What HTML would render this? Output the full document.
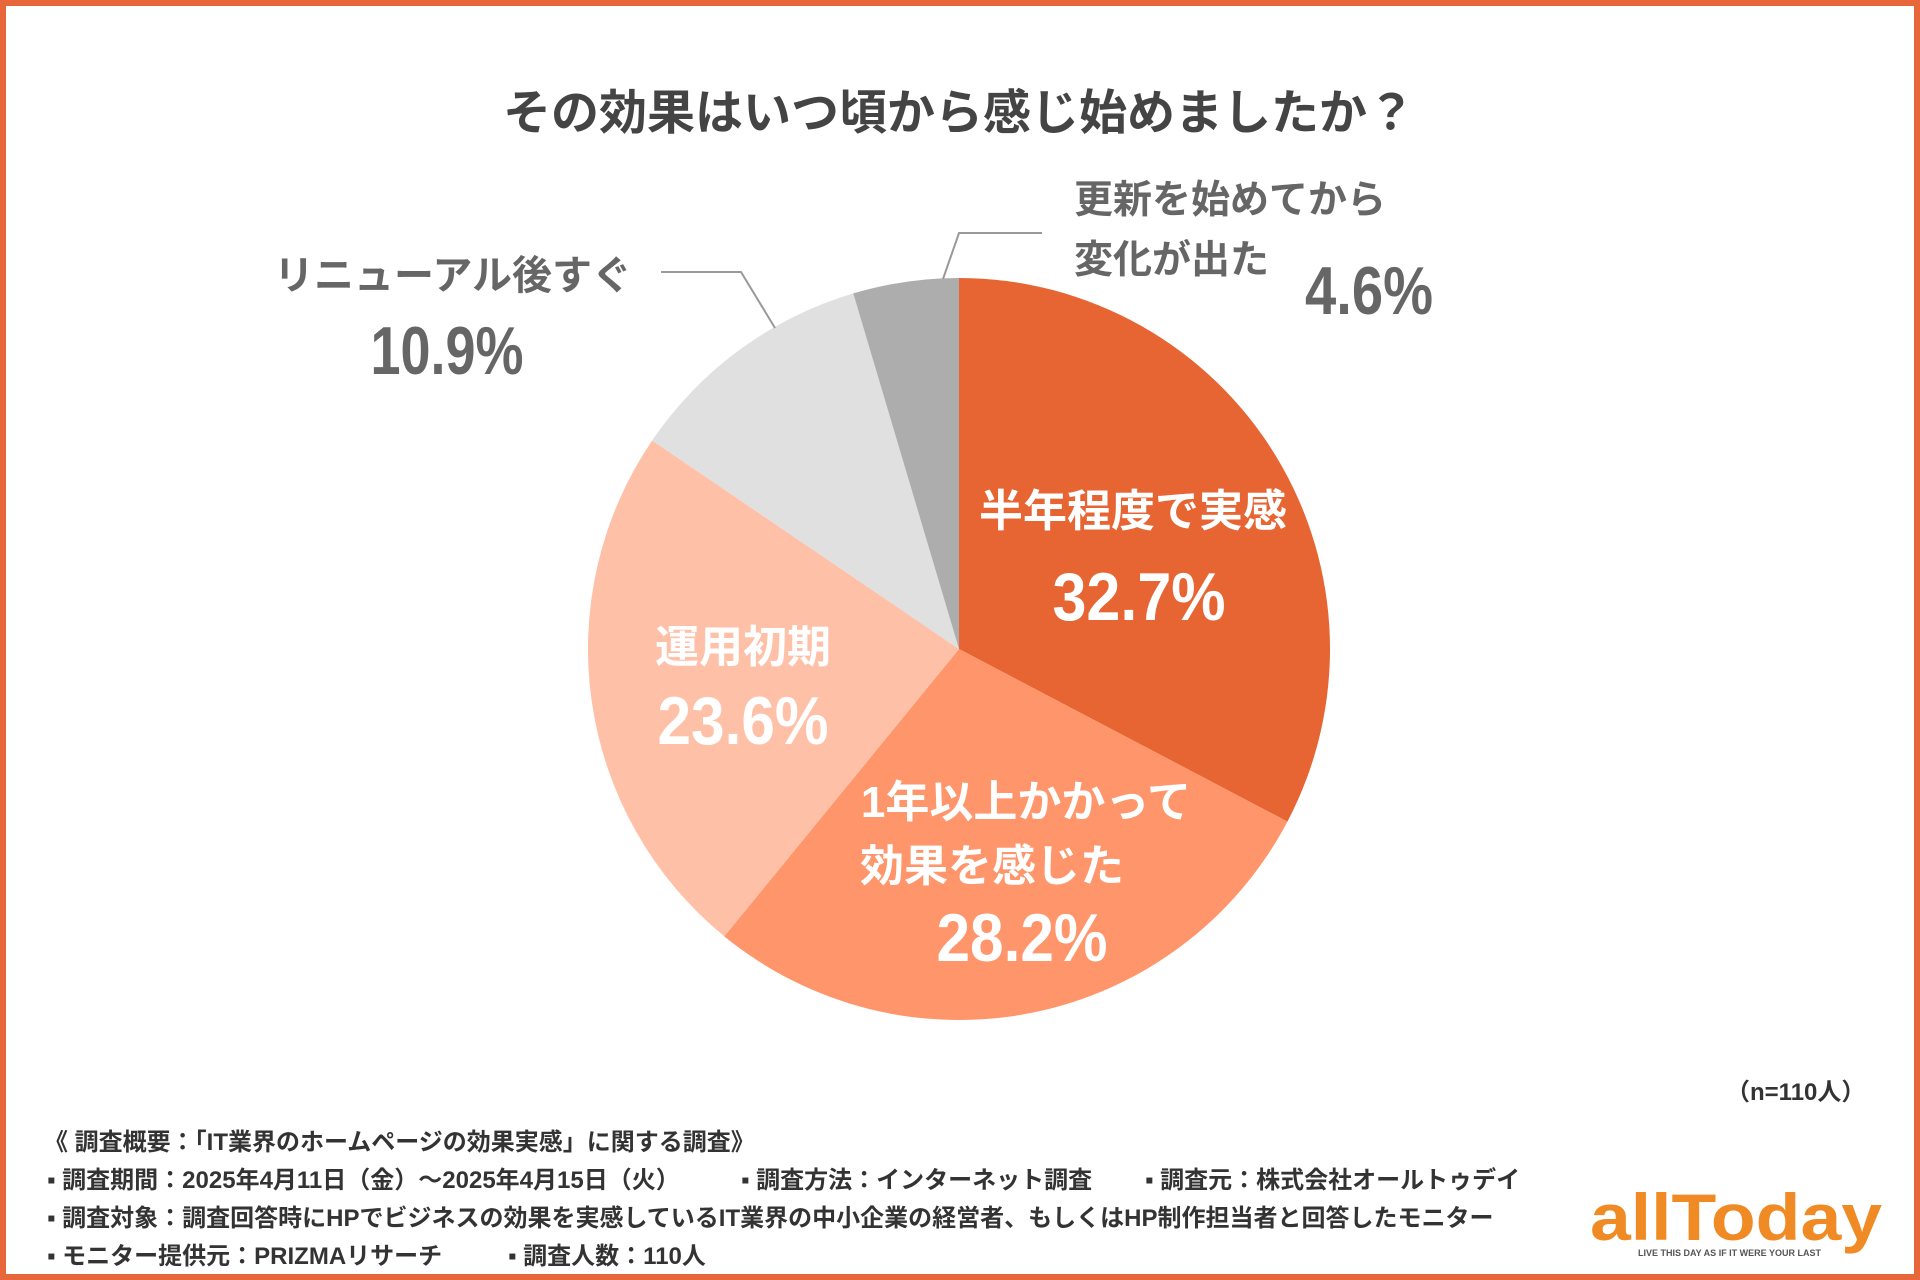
<!DOCTYPE html>
<html><head><meta charset="utf-8"><style>
body{margin:0;width:1920px;height:1280px;overflow:hidden;background:#fff;font-family:"Liberation Sans","Noto Sans CJK JP",sans-serif;}
#frame{position:absolute;left:0;top:0;width:1908px;height:1268px;border:6px solid #E8673A;}
svg{position:absolute;left:0;top:0}
.n{font-family:"Liberation Sans",sans-serif;font-weight:bold}
.ft{position:absolute;font-size:24px;font-weight:bold;color:#333;white-space:nowrap}
</style></head><body>
<div id="frame"></div>
<svg width="1920" height="1280">
<text x="959" y="129" text-anchor="middle" font-size="48" font-weight="bold" fill="#444">その効果はいつ頃から感じ始めましたか？</text>
<g id="slices"></g>
<polyline points="775,328 741,272 661,272" fill="none" stroke="#999" stroke-width="2"/>
<polyline points="943,279 959,233 1042,233" fill="none" stroke="#999" stroke-width="2"/>
<g font-weight="bold">
<text x="1133" y="526" text-anchor="middle" font-size="44" fill="#fff">半年程度で実感</text>
<text class="n" x="1139" y="620" text-anchor="middle" font-size="68" fill="#fff" textLength="173" lengthAdjust="spacingAndGlyphs">32.7%</text>
<text x="1026" y="817" text-anchor="middle" font-size="44" fill="#fff">1年以上かかって</text>
<text x="992" y="881" text-anchor="middle" font-size="44" fill="#fff">効果を感じた</text>
<text class="n" x="1022" y="961" text-anchor="middle" font-size="68" fill="#fff" textLength="171" lengthAdjust="spacingAndGlyphs">28.2%</text>
<text x="743" y="662" text-anchor="middle" font-size="44" fill="#fff">運用初期</text>
<text class="n" x="743" y="744" text-anchor="middle" font-size="68" fill="#fff" textLength="171" lengthAdjust="spacingAndGlyphs">23.6%</text>
<text x="453" y="289" text-anchor="middle" font-size="40" fill="#666">リニューアル後すぐ</text>
<text class="n" x="447" y="374" text-anchor="middle" font-size="68" fill="#666" textLength="153" lengthAdjust="spacingAndGlyphs">10.9%</text>
<text x="1074" y="213" font-size="39" fill="#666">更新を始めてから</text>
<text x="1074" y="273" font-size="39" fill="#666">変化が出た</text>
<text class="n" x="1369" y="314" text-anchor="middle" font-size="68" fill="#666" textLength="128" lengthAdjust="spacingAndGlyphs">4.6%</text>
</g>
<text x="1590" y="1240" font-size="66" font-weight="bold" fill="#F08A24" textLength="292" lengthAdjust="spacingAndGlyphs">allToday</text>
<text x="1638" y="1256" font-size="9" font-weight="bold" fill="#555">LIVE THIS DAY AS IF IT WERE YOUR LAST</text>
</svg>
<div class="ft" style="left:1726px;top:1072px">（n=110人）</div>
<div class="ft" style="left:44px;top:1122px">《 調査概要：「IT業界のホームページの効果実感」に関する調査》</div>
<div class="ft" style="left:47px;top:1160px">▪ 調査期間：2025年4月11日（金）～2025年4月15日（火）</div>
<div class="ft" style="left:741px;top:1160px">▪ 調査方法：インターネット調査</div>
<div class="ft" style="left:1145px;top:1160px">▪ 調査元：株式会社オールトゥデイ</div>
<div class="ft" style="left:47px;top:1198px">▪ 調査対象：調査回答時にHPでビジネスの効果を実感しているIT業界の中小企業の経営者、もしくはHP制作担当者と回答したモニター</div>
<div class="ft" style="left:47px;top:1236px">▪ モニター提供元：PRIZMAリサーチ</div>
<div class="ft" style="left:508px;top:1236px">▪ 調査人数：110人</div>
<script>
const categories = ["半年程度で実感","1年以上かかって効果を感じた","運用初期","リニューアル後すぐ","更新を始めてから変化が出た"];
const values = [32.7, 28.2, 23.6, 10.9, 4.6];
const colors = ["#E76433","#FF956A","#FFC0A8","#E0E0E0","#ADADAD"];
const cx = 959, cy = 649, r = 371;
const g = document.getElementById('slices');
const total = values.reduce((a,b)=>a+b,0);
let acc = 0;
function pt(f){const a = f*2*Math.PI - Math.PI/2; return [cx + r*Math.cos(a), cy + r*Math.sin(a)];}
values.forEach((v,i)=>{
  const s = pt(acc/total), e = pt((acc+v)/total);
  const large = v/total > 0.5 ? 1 : 0;
  const p = document.createElementNS('http://www.w3.org/2000/svg','path');
  p.setAttribute('d', `M${cx},${cy} L${s[0]},${s[1]} A${r},${r} 0 ${large} 1 ${e[0]},${e[1]} Z`);
  p.setAttribute('fill', colors[i]);
  
  
  g.appendChild(p);
  acc += v;
});
</script>
</body></html>
